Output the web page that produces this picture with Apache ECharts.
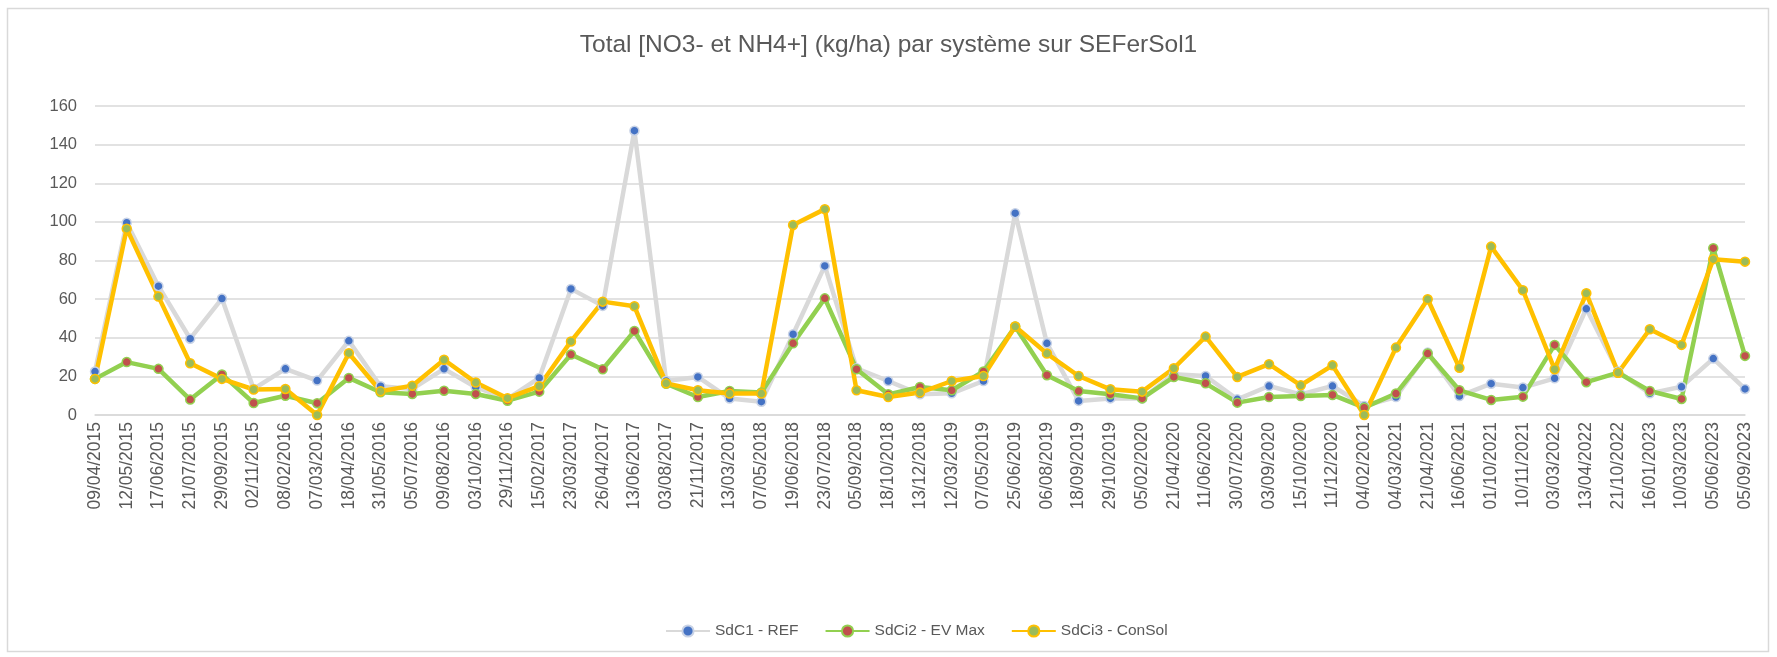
<!DOCTYPE html>
<html>
<head>
<meta charset="utf-8">
<script src="https://cdn.jsdelivr.net/npm/echarts@6/dist/echarts.min.js"></script>
<style>
    html, body { margin: 0; padding: 0; background: #fff; }
    #chart { width: 1777px; height: 657px; }
</style>
</head>
<body>
<div id="chart"></div>
<script>
    var categories = [
        '09/04/2015', '12/05/2015', '17/06/2015', '21/07/2015', '29/09/2015', '02/11/2015', '08/02/2016', '07/03/2016',
        '18/04/2016', '31/05/2016', '05/07/2016', '09/08/2016', '03/10/2016', '29/11/2016', '15/02/2017', '23/03/2017',
        '26/04/2017', '13/06/2017', '03/08/2017', '21/11/2017', '13/03/2018', '07/05/2018', '19/06/2018', '23/07/2018',
        '05/09/2018', '18/10/2018', '13/12/2018', '12/03/2019', '07/05/2019', '25/06/2019', '06/08/2019', '18/09/2019',
        '29/10/2019', '05/02/2020', '21/04/2020', '11/06/2020', '30/07/2020', '03/09/2020', '15/10/2020', '11/12/2020',
        '04/02/2021', '04/03/2021', '21/04/2021', '16/06/2021', '01/10/2021', '10/11/2021', '03/03/2022', '13/04/2022',
        '21/10/2022', '16/01/2023', '10/03/2023', '05/06/2023', '05/09/2023'
    ]
    var sdc1Ref = [
        22.5, 99.6, 66.7, 39.5, 60.3, 13.5, 23.9, 17.8, 38.4, 14.9, 13.5, 23.9, 14.4, 8.3, 19.2, 65.3,
        56.5, 147.2, 17.6, 19.7, 8.5, 6.9, 41.8, 77.2, 24.2, 17.6, 10.7, 11.2, 17.6, 104.5, 37.1, 7.3, 8.6, 8.5,
        21.1, 20.2, 8.1, 15.0, 10.7, 15.0, 4.7, 9.3, 32.3, 9.8, 16.2, 14.2, 19.0, 55.0, 22.5, 11.2, 14.6, 29.2, 13.5
    ]
    var sdci2EvMax = [
        18.7, 27.4, 23.9, 8.0, 21.0, 6.2, 10.0, 6.1, 19.2, 11.8, 10.9, 12.6, 10.9, 7.4, 12.1, 31.3,
        23.7, 43.5, 16.2, 9.3, 12.4, 11.6, 37.1, 60.4, 23.7, 10.7, 14.5, 12.8, 22.5, 45.8, 20.6, 12.4, 10.7, 8.6,
        19.7, 16.4, 6.4, 9.3, 9.8, 10.4, 3.8, 11.1, 31.8, 12.8, 7.8, 9.5, 36.3, 17.0, 21.9, 12.4, 8.3, 86.4, 30.6
    ]
    var sdci3ConSol = [
        18.7, 96.5, 61.3, 26.8, 18.7, 13.2, 13.5, 0, 32.0, 12.3, 15.2, 28.6, 16.8, 8.7, 14.9, 38.1,
        58.7, 56.3, 16.4, 12.8, 11.1, 11.1, 98.4, 106.6, 12.8, 9.3, 11.6, 17.6, 20.2, 45.8, 31.8, 20.2, 13.3, 12.1,
        24.2, 40.6, 19.7, 26.3, 15.4, 25.7, 0, 34.9, 59.9, 24.5, 87.2, 64.6, 23.7, 63.0, 21.9, 44.4, 36.3, 80.7, 79.4
    ]
    var yTicks = { min: 0, max: 160, interval: 20 }

    var font = '"Liberation Sans", Arial, sans-serif'
    var textGrey = '#595959'
    var gridGrey = '#d9d9d9'

    function lineSeries(name, data, lineColor, fill, border) {
        return {
            name: name,
            type: 'line',
            data: data,
            symbol: 'circle',
            symbolSize: 9,
            lineStyle: { color: lineColor, width: 4.5 },
            itemStyle: { color: fill, borderColor: border, borderWidth: 1.5 },
            emphasis: { disabled: true }
        }
    }

    var chart = echarts.init(document.getElementById('chart'))
    chart.setOption({
        animation: false,
        backgroundColor: '#fff',
        graphic: [{
            type: 'rect',
            shape: { x: 7.5, y: 8.5, width: 1761, height: 643 },
            style: { fill: 'none', stroke: gridGrey, lineWidth: 1.5 },
            silent: true
        }],
        title: {
            text: 'Total [NO3- et NH4+] (kg/ha) par système sur SEFerSol1',
            left: 'center',
            top: 28,
            textStyle: { fontFamily: font, fontSize: 24.5, fontWeight: 'normal', color: textGrey }
        },
        legend: {
            left: 660,
            top: 618,
            itemWidth: 44,
            itemHeight: 14,
            itemGap: 26,
            textStyle: { fontFamily: font, fontSize: 15.5, color: textGrey },
            data: ['SdC1 - REF', 'SdCi2 - EV Max', 'SdCi3 - ConSol']
        },
        grid: { left: 95, right: 32, top: 106, bottom: 242, containLabel: false },
        xAxis: {
            type: 'category',
            data: categories,
            boundaryGap: false,
            axisLine: { show: true, lineStyle: { color: gridGrey, width: 1.5 } },
            axisTick: { show: false },
            axisLabel: {
                interval: 0,
                rotate: 90,
                margin: 7,
                fontFamily: font,
                fontSize: 17.5,
                color: textGrey
            }
        },
        yAxis: {
            type: 'value',
            min: yTicks.min,
            max: yTicks.max,
            interval: yTicks.interval,
            axisLine: { show: false },
            axisTick: { show: false },
            splitLine: { lineStyle: { color: gridGrey, width: 1.5 } },
            axisLabel: { margin: 18, fontFamily: font, fontSize: 16.5, color: textGrey }
        },
        series: [
            lineSeries('SdC1 - REF', sdc1Ref, '#d9d9d9', '#4472c4', '#c9d3e6'),
            lineSeries('SdCi2 - EV Max', sdci2EvMax, '#92d050', '#c0504d', '#92d050'),
            lineSeries('SdCi3 - ConSol', sdci3ConSol, '#ffc000', '#9bbb59', '#ffc000')
        ]
    })
</script>
</body>
</html>
